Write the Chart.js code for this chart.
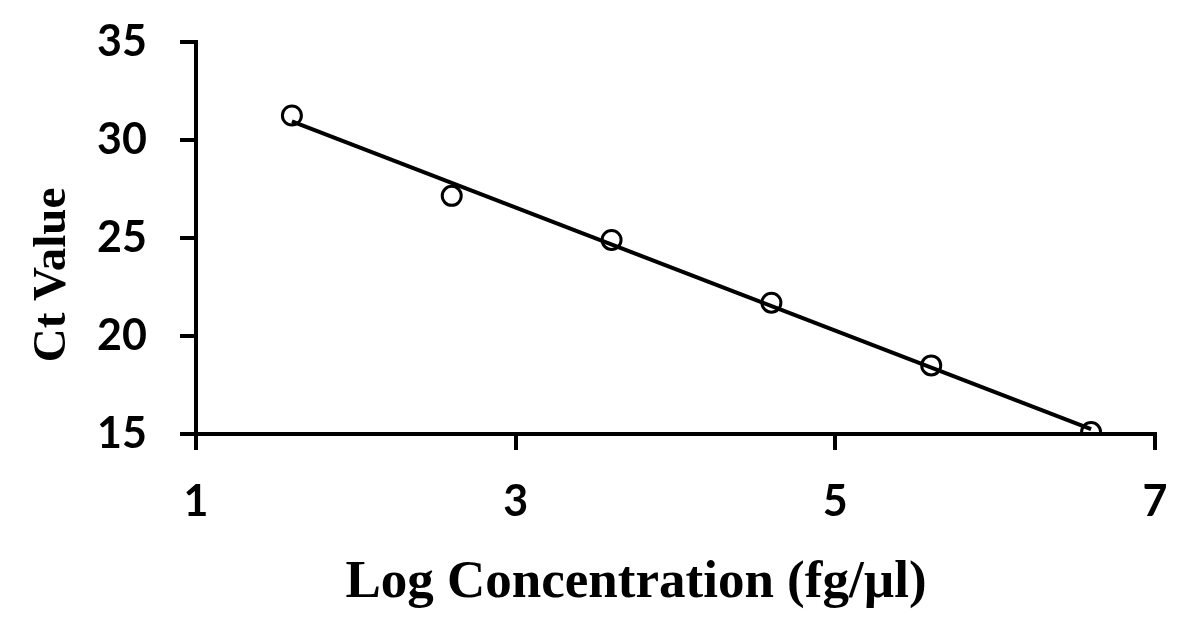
<!DOCTYPE html>
<html>
<head>
<meta charset="utf-8">
<script src="https://cdn.jsdelivr.net/npm/chart.js@4.4.1/dist/chart.umd.min.js"></script>
<style>
  html, body { margin: 0; padding: 0; background: #fff; }
  #wrap { width: 1191px; height: 638px; position: relative; }
</style>
</head>
<body>
<div id="wrap"><canvas id="stdCurve"></canvas></div>
<script>
// Standard curve data
const logConc = [1.6, 2.6, 3.6, 4.6, 5.6, 6.6];
const ctValues = [31.25, 27.15, 24.9, 21.7, 18.5, 15.1];
const xTicks = [1, 3, 5, 7];
const yTicks = [15, 20, 25, 30, 35];
const xTitle = 'Log Concentration (fg/µl)';
const yTitle = 'Ct Value';

// least squares trendline through the points
function fitLine(xs, ys) {
  const n = xs.length;
  const mx = xs.reduce((a, b) => a + b, 0) / n;
  const my = ys.reduce((a, b) => a + b, 0) / n;
  let sxy = 0, sxx = 0;
  for (let i = 0; i < n; i++) {
    sxy += (xs[i] - mx) * (ys[i] - my);
    sxx += (xs[i] - mx) * (xs[i] - mx);
  }
  const slope = sxy / sxx;
  return { slope: slope, intercept: my - slope * mx };
}
const fit = fitLine(logConc, ctValues);
const xFirst = logConc[0], xLast = logConc[logConc.length - 1];
const trend = [
  { x: xFirst, y: fit.intercept + fit.slope * xFirst },
  { x: xLast, y: fit.intercept + fit.slope * xLast }
];

// axis titles are drawn by hand, they sit off-centre in the original
const axisTitles = {
  id: 'axisTitles',
  afterDraw(chart) {
    const ctx = chart.ctx;
    ctx.save();
    ctx.fillStyle = '#000';
    ctx.textAlign = 'center';
    ctx.textBaseline = 'alphabetic';
    ctx.font = 'bold 53px "Liberation Serif", serif';
    ctx.fillText(xTitle, 636, 597);
    ctx.translate(65, 275);
    ctx.rotate(-Math.PI / 2);
    ctx.font = 'bold 47px "Liberation Serif", serif';
    ctx.fillText(yTitle, 0, 0);
    ctx.restore();
  }
};

const tickFont = { family: 'Lato, "Open Sans", sans-serif', size: 43, weight: 'bold' };

new Chart(document.getElementById('stdCurve'), {
  type: 'scatter',
  data: {
    datasets: [
      {
        label: 'Trendline',
        data: trend,
        showLine: true,
        borderColor: '#000',
        borderWidth: 4,
        pointRadius: 0,
        order: 2
      },
      {
        label: 'Ct',
        data: logConc.map((x, i) => ({ x: x, y: ctValues[i] })),
        pointStyle: 'circle',
        pointRadius: 9.5,
        pointBorderWidth: 3,
        pointBorderColor: '#000',
        pointBackgroundColor: 'rgba(255,255,255,0)',
        order: 1
      }
    ]
  },
  options: {
    responsive: true,
    maintainAspectRatio: false,
    devicePixelRatio: 1,
    animation: false,
    layout: { padding: { top: 42, right: 36, left: 0, bottom: 0 } },
    plugins: {
      legend: { display: false },
      tooltip: { enabled: false }
    },
    scales: {
      x: {
        type: 'linear',
        min: 1,
        max: 7,
        afterBuildTicks: (scale) => { scale.ticks = xTicks.map(v => ({ value: v })); },
        afterFit: (scale) => {
          scale.height = 638 - 434;
          scale.paddingLeft = 0;
          scale.paddingRight = 0;
        },
        ticks: { color: '#000', font: tickFont, padding: 26 },
        grid: { display: true, drawOnChartArea: false, drawTicks: true, tickLength: 16, color: '#000', lineWidth: 4 },
        border: { display: true, color: '#000', width: 4 }
      },
      y: {
        type: 'linear',
        min: 15,
        max: 35,
        afterBuildTicks: (scale) => { scale.ticks = yTicks.map(v => ({ value: v })); },
        afterFit: (scale) => {
          scale.width = 196;
          scale.paddingTop = 0;
          scale.paddingBottom = 0;
        },
        ticks: { color: '#000', font: tickFont, padding: 33 },
        grid: { display: true, drawOnChartArea: false, drawTicks: true, tickLength: 16, color: '#000', lineWidth: 4 },
        border: { display: true, color: '#000', width: 4 }
      }
    }
  },
  plugins: [axisTitles]
});
</script>
</body>
</html>
